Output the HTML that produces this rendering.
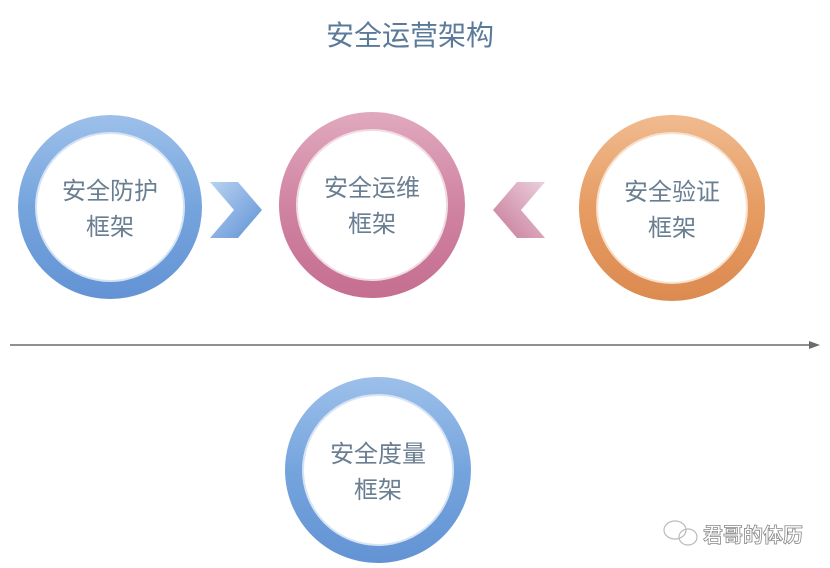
<!DOCTYPE html>
<html><head><meta charset="utf-8"><style>
body{margin:0;background:#fff;}
svg{display:block}
text{font-family:"Liberation Sans","Noto Sans CJK SC",sans-serif;}
</style></head><body>
<svg width="830" height="568" viewBox="0 0 830 568">
<defs>
<linearGradient id="gb" x1="0" y1="0" x2="0" y2="1"><stop offset="0" stop-color="#9dc0ea"/><stop offset="0.5" stop-color="#75a4dd"/><stop offset="1" stop-color="#6393d4"/></linearGradient>
<linearGradient id="gp" x1="0" y1="0" x2="0" y2="1"><stop offset="0" stop-color="#e0a9be"/><stop offset="0.5" stop-color="#d084a1"/><stop offset="1" stop-color="#c56e90"/></linearGradient>
<linearGradient id="go" x1="0" y1="0" x2="0" y2="1"><stop offset="0" stop-color="#f0bb90"/><stop offset="0.5" stop-color="#e69c62"/><stop offset="1" stop-color="#dc8a50"/></linearGradient>
<linearGradient id="cb" x1="0" y1="0" x2="1" y2="1"><stop offset="0" stop-color="#b8d2f0"/><stop offset="1" stop-color="#5f92d6"/></linearGradient>
<linearGradient id="cp" x1="1" y1="0" x2="0" y2="1"><stop offset="0" stop-color="#ead0dc"/><stop offset="1" stop-color="#c87896"/></linearGradient>
</defs>
<text x="410" y="45" font-size="28" fill="#5b7a99" text-anchor="middle">安全运营架构</text>

<g>
<circle cx="110" cy="207" r="92" fill="url(#gb)"/>
<circle cx="110" cy="207" r="74" fill="#fff" stroke="#d5e3f5" stroke-width="2"/>
<text x="110" y="199" font-size="24" fill="#6a7e92" text-anchor="middle">安全防护</text>
<text x="110" y="235" font-size="24" fill="#6a7e92" text-anchor="middle">框架</text>
</g>
<g>
<circle cx="372" cy="205" r="93" fill="url(#gp)"/>
<circle cx="372" cy="205" r="75" fill="#fff" stroke="#f0dbe3" stroke-width="2"/>
<text x="372" y="196" font-size="24" fill="#6a7e92" text-anchor="middle">安全运维</text>
<text x="372" y="232" font-size="24" fill="#6a7e92" text-anchor="middle">框架</text>
</g>
<g>
<circle cx="672" cy="208" r="93" fill="url(#go)"/>
<circle cx="672" cy="208" r="75" fill="#fff" stroke="#f7e0cc" stroke-width="2"/>
<text x="672" y="200" font-size="24" fill="#6a7e92" text-anchor="middle">安全验证</text>
<text x="672" y="236" font-size="24" fill="#6a7e92" text-anchor="middle">框架</text>
</g>
<g>
<circle cx="378" cy="470" r="93" fill="url(#gb)"/>
<circle cx="378" cy="470" r="75" fill="#fff" stroke="#d5e3f5" stroke-width="2"/>
<text x="378" y="462" font-size="24" fill="#6a7e92" text-anchor="middle">安全度量</text>
<text x="378" y="498" font-size="24" fill="#6a7e92" text-anchor="middle">框架</text>
</g>

<polygon points="210,182 238,182 262,210 238,238 210,238 234,210" fill="url(#cb)"/>
<polygon points="545,182 517,182 493,210 517,238 545,238 521,210" fill="url(#cp)"/>

<line x1="10" y1="345" x2="812" y2="345" stroke="#6b6b6b" stroke-width="1.5"/>
<polygon points="820,345 809,341 809,349" fill="#6b6b6b"/>

<g fill="none" stroke="#bbb" stroke-width="1.2">
<ellipse cx="675" cy="530" rx="11" ry="9"/>
<ellipse cx="688" cy="537" rx="9" ry="8"/>
</g>
<text x="703" y="542" font-size="20" font-weight="bold" fill="#fff" stroke="#888" stroke-width="0.8">君哥的体历</text>
</svg>
</body></html>
